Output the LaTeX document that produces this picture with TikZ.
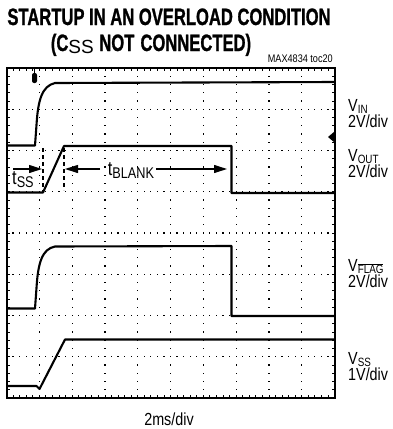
\documentclass[tikz,border=0pt]{standalone}
\usepackage{fontspec}
\setmainfont{Liberation Sans}
\newfontfamily\titfont[FakeStretch=0.70,FakeBold=1]{Liberation Sans}
\newfontfamily\labfont[FakeStretch=0.82]{Liberation Sans}
\newfontfamily\tinyfont[FakeStretch=0.83]{Liberation Sans}
\usetikzlibrary{arrows.meta}
\newcommand\lsub[1]{\smash{\raisebox{-2pt}{\fontsize{12}{12}\selectfont #1}}}
\newcommand\tsub[1]{\raisebox{-3pt}{\labfont\fontsize{15.5}{15.5}\selectfont #1}}
\begin{document}
\begin{tikzpicture}[x=1pt,y=-1pt,
  trace/.style={line width=2.1pt,line join=round},
  frame/.style={line width=2pt},
  dashln/.style={line width=1.3pt,dash pattern=on 4pt off 3pt},
  arr/.style={line width=1.1pt,-{Triangle[length=13pt,width=8pt]}},
  lab/.style={font=\labfont\fontsize{17.5}{15.5}\selectfont,inner sep=0pt,align=left},
  tlab/.style={font=\labfont\fontsize{20}{20}\selectfont,inner sep=0pt}]
\useasboundingbox (0,0) rectangle (392,429);
% title
\node[anchor=base,inner sep=0pt,font=\titfont\bfseries\fontsize{23.7}{24}\selectfont] (t1) at (169,25) {STARTUP IN AN OVERLOAD CONDITION};
\node[anchor=base,inner sep=0pt,font=\titfont\bfseries\fontsize{23.7}{24}\selectfont] (t2) at (151,51) {(C\raisebox{-2.5pt}{\normalfont\fontsize{19}{19}\selectfont SS}\hspace{1pt} NOT\hspace{1.5pt} CONNECTED)};
\node[anchor=base east,inner sep=0pt,font=\tinyfont\fontsize{11}{11}\selectfont] (code) at (333,62) {MAX4834 toc20};
% grid
\foreach \i in {1,...,9} {
  \foreach \j in {1,...,39} {
    \fill ({6.5+32.8*\i-0.6},{68+8.25*\j-0.6}) rectangle +(1.2,1.2);
  }
}
\foreach \j in {1,...,7} {
  \foreach \i in {1,...,49} {
    \fill ({6.5+6.56*\i-0.6},{68+41.25*\j-0.6}) rectangle +(1.2,1.2);
  }
}
% border ticks
\foreach \i in {1,...,49} {
  \draw[line width=0.8pt] ({6.5+6.56*\i},68) -- ++(0,3);
  \draw[line width=0.8pt] ({6.5+6.56*\i},398) -- ++(0,-3);
}
\foreach \j in {1,...,39} {
  \draw[line width=0.8pt] (6.5,{68+8.25*\j}) -- ++(3,0);
  \draw[line width=0.8pt] (334.5,{68+8.25*\j}) -- ++(-3,0);
}
\draw[frame] (6.5,68) rectangle (334.5,398);
% markers
\draw[line width=1pt] (34.5,68) -- (34.5,74);
\fill[rounded corners=2pt] (32,73) rectangle (37,83);
\fill (334.5,131.5) -- (328,137) -- (334.5,142.5) -- cycle;
% traces
\draw[trace] (6.5,145.5) -- (35,145.5) -- (36.5,125) .. controls (38,100) and (42,86) .. (55,83) -- (334.5,82);
\draw[trace] (6.5,192.5) -- (43,192.5) -- (64,146) -- (231.5,146) -- (231.5,193) -- (334.5,193);
\draw[trace] (6.5,308.5) -- (35,308.5) -- (36.5,288) .. controls (38,263) and (42,249) .. (55,246.5) -- (231.5,246) -- (231.5,316) -- (334.5,316);
\draw[trace] (6.5,386) -- (36.5,386) -- (39.5,389) -- (65,339.5) -- (334.5,339.5);
% timing marks
\coordinate (d1t) at (43,148); \coordinate (d1b) at (43,192);
\coordinate (d2t) at (64,148); \coordinate (d2b) at (64,190);
\draw[dashln] (d1t) -- (d1b);
\draw[dashln] (d2t) -- (d2b);
\coordinate (ssL) at (13,169); \coordinate (ssR) at (42,169);
\draw[arr] (ssL) -- (ssR);
\node[tlab,anchor=base west] (tss) at (12,184) {t\tsub{SS}};
\node[tlab,anchor=base] (tbl) at (131,175) {t\tsub{BLANK}};
\coordinate (blL) at (65,169); \coordinate (blR) at (227,169);
\coordinate (blLs) at (100,169); \coordinate (blRs) at (156,169);
\draw[arr] (blLs) -- (blL);
\draw[arr] (blRs) -- (blR);
% right labels
\node[lab,anchor=north west] (vin) at (348,99.5) {V\lsub{IN}\\2V/div};
\node[lab,anchor=north west] (vout) at (348,149.5) {V\lsub{OUT}\\2V/div};
\node[lab,anchor=north west] (vflag) at (348,259.5) {V\lsub{$\overline{\hbox{FLAG}}$}\\2V/div};
\node[lab,anchor=north west] (vss) at (348,352.5) {V\lsub{SS}\\1V/div};
\node[lab,anchor=base] (tdiv) at (169,425) {2ms/div};
\end{tikzpicture}
\end{document}
